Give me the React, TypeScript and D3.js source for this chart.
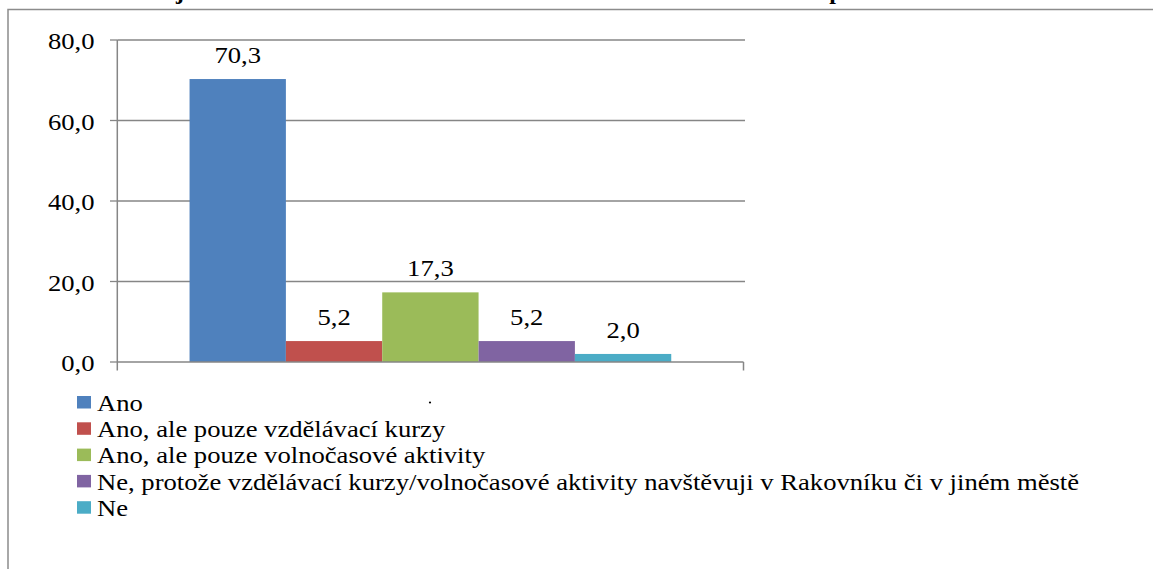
import React from "react";
import * as d3 from "d3";

const categories = ["Ano", "Ano, ale pouze vzdělávací kurzy", "Ano, ale pouze volnočasové aktivity", "Ne, protože vzdělávací kurzy/volnočasové aktivity navštěvuji v Rakovníku či v jiném městě", "Ne"];
const values = [70.3, 5.2, 17.3, 5.2, 2.0];
const colors = ["#4F81BD", "#C0504D", "#9BBB59", "#8064A2", "#4BACC6"];
const yTicks = [0, 20, 40, 60, 80];
const groupLabel = [""];

const FONT = "Liberation Serif";
const SX = 1.11;

function T(props: { x: number; y: number; anchor?: string; size?: number; weight?: string; children: React.ReactNode }) {
  const { x, y, anchor = "start", size = 24, weight = "normal", children } = props;
  return (
    <text transform={`translate(${x},${y}) scale(${SX},1)`} textAnchor={anchor} fontFamily={FONT} fontSize={size} fontWeight={weight} fill="#000">
      {children}
    </text>
  );
}

export default function App() {
  const W = 1153, H = 569;
  const left = 117.3, right = 743.5, top = 40, bottom = 362;
  const y = d3.scaleLinear().domain([0, 80]).range([bottom, top]);
  const x0 = d3.scaleBand<string>().domain(groupLabel).range([left, right]).paddingInner(0).paddingOuter(0.15);
  const x1 = d3.scaleBand<string>().domain(categories).range([0, x0.bandwidth()]).padding(0);
  const fmt = (v: number) => v.toFixed(1).replace(".", ",");
  const grid = "#868686";
  return (
    <svg width={W} height={H} style={{ position: "absolute", left: 0, top: 0, display: "block", background: "#fff" }}>
      <text y={-1} fontFamily={FONT} fontWeight="bold" fontSize={24} fill="#000">
        <tspan x={0}>Graf 8: Navštěvujete nabídku kurzů a aktivit v obci Lužná –</tspan>
        <tspan x={804}>odpovědi v %</tspan>
      </text>
      <rect x={8} y={9.5} width={W + 20} height={H + 20} fill="none" stroke="#8c8c8c" strokeWidth={1.5} />
      {yTicks.map((t) => (
        <g key={t}>
          {t > 0 && <line x1={left} x2={right + 1.5} y1={y(t)} y2={y(t)} stroke={grid} strokeWidth={1.3} />}
          <line x1={110} x2={left} y1={y(t)} y2={y(t)} stroke={grid} strokeWidth={1.3} />
          <T x={94.5} y={y(t) + 9.3} anchor="end">{fmt(t)}</T>
        </g>
      ))}
      {groupLabel.map((g) => (
        <g key={"g" + g} transform={`translate(${x0(g)},0)`}>
          {categories.map((c, i) => (
            <g key={c}>
              <rect x={x1(c)} y={y(values[i])} width={x1.bandwidth()} height={y(0) - y(values[i])} fill={colors[i]} />
              <T x={(x1(c) as number) + x1.bandwidth() / 2} y={y(values[i]) - 16} anchor="middle">{fmt(values[i])}</T>
            </g>
          ))}
        </g>
      ))}
      <line x1={left} x2={left} y1={top} y2={370.5} stroke={grid} strokeWidth={1.5} />
      <line x1={left} x2={right} y1={bottom} y2={bottom} stroke={grid} strokeWidth={1.5} />
      <line x1={right} x2={right} y1={bottom} y2={370.5} stroke={grid} strokeWidth={1.5} />
      <circle cx={430} cy={402.5} r={1.1} fill="#000" />
      {categories.map((c, i) => (
        <g key={"l" + c}>
          <rect x={77} y={410.7 + i * 26.3 - 14.7} width={14} height={12.5} fill={colors[i]} />
          <T x={97} y={410.7 + i * 26.3}>{c}</T>
        </g>
      ))}
    </svg>
  );
}
